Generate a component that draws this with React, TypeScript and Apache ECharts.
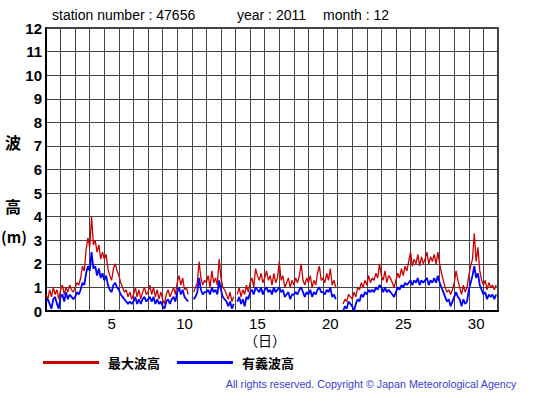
import React, { useEffect, useRef } from "react";
import * as echarts from "echarts";

// Day-of-month categories (x-axis labels)
const days: string[] = Array.from({ length: 31 }, (_, i) => String(i + 1));
const yTicks: number[] = [0, 1, 2, 3, 4, 5, 6, 7, 8, 9, 10, 11, 12];
const samplesPerDay = 8; // every 3 hours

// 最大波高 (max wave height, m), 8 samples per day, null = missing
const maxWave: (number | null)[] = [
  0.7, 0.5, 0.9, 0.6, 1.0, 0.7, 0.9, 0.5, // 1
  0.9, 1.1, 0.7, 1.0, 0.8, 1.1, 0.9, 0.8, // 2
  1.0, 1.2, 1.1, 1.4, 1.9, 1.7, 2.6, 3.1, // 3
  2.7, 4.0, 2.8, 3.0, 2.5, 2.8, 2.2, 2.5, // 4
  2.2, 2.4, 1.8, 1.5, 1.3, 1.8, 2.0, 1.7, // 5
  1.5, 1.2, 1.0, 0.8, 0.9, 0.6, 0.8, 0.5, // 6
  0.7, 1.0, 0.6, 0.9, 0.5, 0.8, 1.0, 0.7, // 7
  0.8, 1.1, 0.7, 1.0, 0.6, 0.9, 0.5, 0.8, // 8
  0.5, 0.3, 0.7, 0.9, 0.6, 0.8, 1.0, 0.7, // 9
  1.2, 1.5, 1.1, 1.4, 0.9, 1.0, 0.7, null, // 10
  null, 0.8, 1.0, 1.2, 2.1, 1.4, 1.1, 1.3, // 11
  1.2, 1.5, 1.0, 1.7, 1.2, 1.4, 1.1, 2.2, // 12
  1.4, 1.0, 0.9, 0.7, 0.5, 0.8, 0.4, 0.6, // 13
  null, 0.7, 1.0, 0.6, 0.9, 0.7, 1.1, 0.8, // 14
  1.2, 1.4, 1.0, 1.8, 1.5, 1.3, 1.6, 1.2, // 15
  1.4, 1.7, 1.3, 1.5, 1.1, 1.6, 1.2, 1.4, // 16
  2.1, 1.3, 1.5, 1.0, 1.2, 1.4, 1.0, 1.3, // 17
  1.1, 1.4, 1.2, 1.5, 2.0, 1.3, 1.1, 1.4, // 18
  1.2, 1.5, 1.0, 1.3, 1.1, 1.6, 1.9, 1.3, // 19
  1.4, 1.2, 1.6, 1.3, 1.8, 1.1, 1.3, 1.0, // 20
  null, null, null, 0.3, 0.5, 0.4, 0.7, 0.6, // 21
  0.5, 0.8, 0.6, 1.0, 0.9, 1.2, 1.0, 1.3, // 22
  1.1, 1.5, 1.2, 1.4, 1.3, 1.6, 1.4, 2.0, // 23
  1.5, 1.3, 1.7, 1.2, 1.5, 1.4, 1.2, 1.0, // 24
  1.3, 1.6, 1.4, 1.8, 1.5, 1.9, 1.7, 2.1, // 25
  2.5, 1.9, 2.2, 2.0, 2.4, 1.9, 2.3, 2.0, // 26
  2.2, 2.5, 2.0, 2.3, 2.1, 2.4, 2.0, 2.5, // 27
  2.0, 1.6, 1.3, 1.0, 0.8, 0.9, 0.7, 0.9, // 28
  1.2, 1.7, 1.3, 1.0, 0.7, 1.1, 0.8, 1.0, // 29
  1.5, 1.9, 2.2, 3.3, 2.1, 2.7, 1.7, 1.3, // 30
  1.1, 1.3, 0.9, 1.2, 1.0, 1.1, 0.9, 1.1, // 31
];

// 有義波高 (significant wave height, m)
const sigWave: (number | null)[] = [
  0.4, 0.5, 0.3, 0.1, 0.5, 0.6, 0.3, 0.1, // 1
  0.6, 0.7, 0.4, 0.8, 0.5, 0.7, 0.6, 0.5, // 2
  0.6, 0.8, 0.7, 0.9, 1.2, 1.1, 1.6, 1.9, // 3
  1.7, 2.5, 1.8, 1.9, 1.5, 1.8, 1.4, 1.6, // 4
  1.3, 1.5, 1.1, 0.9, 0.8, 1.1, 1.2, 1.0, // 5
  0.9, 0.7, 0.6, 0.5, 0.4, 0.3, 0.4, 0.3, // 6
  0.4, 0.6, 0.3, 0.5, 0.3, 0.5, 0.6, 0.4, // 7
  0.5, 0.6, 0.4, 0.6, 0.3, 0.5, 0.3, 0.4, // 8
  0.2, 0.1, 0.4, 0.5, 0.3, 0.5, 0.6, 0.4, // 9
  0.8, 1.0, 0.7, 0.9, 0.6, 0.5, 0.4, null, // 10
  null, 0.5, 0.6, 0.8, 1.4, 0.9, 0.7, 0.8, // 11
  0.8, 0.9, 0.7, 1.0, 0.8, 0.9, 0.7, 1.3, // 12
  0.9, 0.6, 0.5, 0.4, 0.2, 0.4, 0.1, 0.3, // 13
  null, 0.4, 0.6, 0.3, 0.5, 0.2, 0.6, 0.5, // 14
  0.8, 0.9, 0.7, 1.0, 0.9, 0.8, 1.0, 0.7, // 15
  0.9, 1.0, 0.8, 0.9, 0.7, 1.0, 0.8, 0.9, // 16
  1.0, 0.8, 0.9, 0.6, 0.7, 0.8, 0.5, 0.7, // 17
  0.7, 0.8, 0.7, 0.9, 1.0, 0.8, 0.6, 0.8, // 18
  0.7, 0.9, 0.6, 0.8, 0.7, 0.9, 1.0, 0.8, // 19
  0.8, 0.7, 0.9, 0.8, 1.0, 0.6, 0.7, 0.5, // 20
  null, null, null, 0.0, 0.2, 0.1, 0.4, 0.3, // 21
  0.2, 0.0, 0.3, 0.5, 0.4, 0.7, 0.6, 0.8, // 22
  0.7, 0.9, 0.8, 0.9, 0.8, 1.0, 0.9, 1.1, // 23
  1.0, 0.8, 1.0, 0.8, 0.9, 0.8, 0.7, 0.6, // 24
  0.8, 1.0, 0.9, 1.1, 1.0, 1.2, 1.1, 1.2, // 25
  1.3, 1.1, 1.3, 1.2, 1.4, 1.1, 1.3, 1.2, // 26
  1.3, 1.4, 1.1, 1.3, 1.2, 1.4, 1.2, 1.5, // 27
  1.2, 1.0, 0.8, 0.6, 0.4, 0.5, 0.2, 0.4, // 28
  0.6, 0.8, 0.6, 0.5, 0.2, 0.5, 0.3, 0.4, // 29
  0.9, 1.2, 1.5, 1.9, 1.4, 1.6, 1.1, 0.9, // 30
  0.7, 0.8, 0.5, 0.7, 0.6, 0.7, 0.5, 0.7, // 31
];

const toPairs = (arr: (number | null)[]) =>
  arr.map((v, i) => [i / samplesPerDay, v]);

export default function App() {
  const ref = useRef<HTMLDivElement>(null);
  useEffect(() => {
    if (!ref.current) return;
    const chart = echarts.init(ref.current, undefined, { renderer: "svg" });
    const sans = "'Liberation Sans', Arial, sans-serif";
    const cjk = "'Noto Sans CJK JP', sans-serif";
    chart.setOption({
      animation: false,
      backgroundColor: "#ffffff",
      grid: {
        left: 46,
        top: 28,
        width: 452,
        height: 283,
        show: true,
        borderColor: "#000",
        borderWidth: 1.5,
        containLabel: false,
      },
      legend: {
        left: 43,
        top: 356,
        padding: 0,
        icon: "rect",
        itemWidth: 56,
        itemHeight: 3,
        itemGap: 17,
        textStyle: {
          fontFamily: cjk,
          fontWeight: "bold",
          fontSize: 13,
          color: "#000",
          padding: [0, 0, 0, 4],
        },
        data: ["最大波高", "有義波高"],
      },
      xAxis: [
        {
          type: "value",
          min: 0,
          max: 31,
          show: false,
        },
        {
          type: "category",
          data: days,
          boundaryGap: true,
          position: "bottom",
          axisLine: { show: true, lineStyle: { color: "#000", width: 2 } },
          axisTick: { show: false },
          axisLabel: {
            interval: (index: number) => (index + 1) % 5 === 0,
            color: "#000",
            fontFamily: sans,
            fontSize: 15,
            lineHeight: 12,
            margin: 6,
          },
          splitLine: {
            show: true,
            interval: 0,
            lineStyle: { color: "#444", width: 1 },
          },
        },
      ],
      yAxis: {
        type: "value",
        min: yTicks[0],
        max: yTicks[yTicks.length - 1],
        interval: 1,
        axisLine: { show: true, lineStyle: { color: "#000", width: 2 } },
        axisTick: { show: false },
        axisLabel: {
          color: "#000",
          fontFamily: sans,
          fontWeight: "bold",
          fontSize: 15,
          margin: 4,
        },
        splitLine: { show: true, lineStyle: { color: "#444", width: 1 } },
      },
      series: [
        {
          name: "最大波高",
          type: "line",
          xAxisIndex: 0,
          data: toPairs(maxWave),
          showSymbol: false,
          connectNulls: false,
          color: "#cc0000",
          lineStyle: { color: "#cc0000", width: 1.3 },
          z: 3,
        },
        {
          name: "有義波高",
          type: "line",
          xAxisIndex: 0,
          data: toPairs(sigWave),
          showSymbol: false,
          connectNulls: false,
          color: "#0000ff",
          lineStyle: { color: "#0000ff", width: 1.8 },
          z: 4,
        },
      ],
      graphic: [
        {
          type: "text",
          left: 52,
          top: 8,
          style: { text: "station number : 47656", font: `14px ${sans}`, fill: "#000" },
        },
        {
          type: "text",
          left: 237,
          top: 8,
          style: { text: "year : 2011", font: `14px ${sans}`, fill: "#000" },
        },
        {
          type: "text",
          left: 323,
          top: 8,
          style: { text: "month : 12", font: `14px ${sans}`, fill: "#000" },
        },
        {
          type: "text",
          left: 5,
          top: 134,
          style: { text: "波", font: `bold 16px ${cjk}`, fill: "#000" },
        },
        {
          type: "text",
          left: 5,
          top: 198,
          style: { text: "高", font: `bold 16px ${cjk}`, fill: "#000" },
        },
        {
          type: "text",
          left: 1,
          top: 229,
          style: { text: "(m)", font: `bold 15px ${cjk}`, fill: "#000" },
        },
        {
          type: "text",
          left: 244,
          top: 333,
          style: { text: "（日）", font: `14px ${cjk}`, fill: "#000", lineHeight: 14 },
        },
        {
          type: "text",
          right: 38,
          top: 378,
          style: {
            text: "All rights reserved. Copyright © Japan Meteorological Agency",
            font: `10.7px ${sans}`,
            fill: "#3c3ce0",
          },
        },
      ],
    });
    return () => chart.dispose();
  }, []);
  return (
    <div
      ref={ref}
      style={{ position: "fixed", left: 0, top: 0, width: 555, height: 395, background: "#fff" }}
    />
  );
}
